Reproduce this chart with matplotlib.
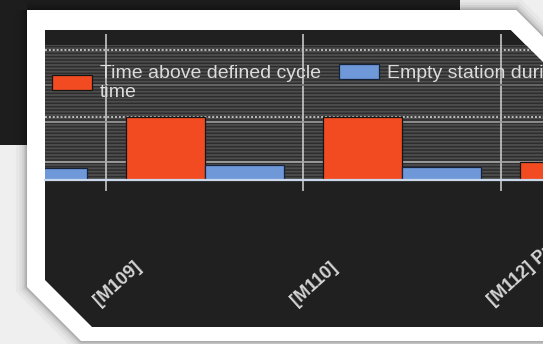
import matplotlib
matplotlib.use("Agg")
import matplotlib.pyplot as plt
import numpy as np
from matplotlib.patches import Polygon, Rectangle
from matplotlib.transforms import ScaledTranslation

# station categories and the two series (hours per station)
stations = ["[M108]", "[M109]", "[M110]", "[M112] Pr"]
over_cycle = [3.0, 3.5, 3.5, 1.0]
empty_station = [0.67, 0.83, 0.72, 0.7]
series_labels = ["Time above defined cycle\ntime", "Empty station during cycle"]

ORANGE = "#f24b22"
BLUE = "#6f98d9"
TEXT = "#dcdcdc"

W, H, DPI = 543, 344, 100
plt.rcParams["font.family"] = ["Liberation Sans", "DejaVu Sans"]
plt.rcParams["hatch.linewidth"] = 1.3


def fx(px):
    return px / W


def fy(py):
    return 1 - py / H


fig = plt.figure(figsize=(W / DPI, H / DPI), dpi=DPI, facecolor="#efefef")

# backdrop, card frame and the dark chart panel, in pixel coordinates
bg = fig.add_axes([0, 0, 1, 1], zorder=0)
bg.set_xlim(0, W)
bg.set_ylim(H, 0)
bg.axis("off")
bg.add_patch(Rectangle((0, 0), 460, 145, color="#1d1d1d", lw=0))
card = [(27, 10), (516, 10), (570, 64), (570, 341), (81, 341), (27, 287)]
for lw, a in [(16, 0.03), (11, 0.04), (7, 0.06), (4, 0.08), (2, 0.10)]:
    bg.add_patch(Polygon(card, closed=True, fill=False, edgecolor="black",
                         lw=lw, alpha=a, joinstyle="miter"))
bg.add_patch(Polygon(card, closed=True, facecolor="white", edgecolor="none"))
panel = [(45, 30), (511, 30), (570, 89), (570, 327), (92, 327), (45, 280)]
bg.add_patch(Polygon(panel, closed=True, facecolor="#202020", edgecolor="none"))

# the chart itself; it runs on past the right edge of the figure
ax = fig.add_axes([fx(45), fy(180), 595 / W, 135 / H], zorder=1)
ax.patch.set_alpha(0)
ax.add_patch(Rectangle((0, 0), 1, 1, transform=ax.transAxes, facecolor="#2d2d2d",
                       edgecolor="#4e4e4e", lw=0, hatch="-----", zorder=0.1))

x = np.arange(len(stations))
b1 = ax.bar(x - 0.2, over_cycle, 0.4, color=ORANGE, edgecolor="#151515", lw=0.9, zorder=2)
b2 = ax.bar(x + 0.2, empty_station, 0.4, color=BLUE, edgecolor="#17233a", lw=0.9, zorder=2)

ax.set_axisbelow(True)

# horizontal guides: solid major lines, dotted minor lines
ax.set_yticks([1.0, 3.2, 5.3])
ax.set_yticks([3.5, 7.2], minor=True)
ax.grid(axis="y", which="major", color="#9c9c9c", lw=1.2)
ax.grid(axis="y", which="minor", color="#bdbdbd", lw=1.4, linestyle=(0, (1, 1)))
for line, c in zip(ax.get_ygridlines(), ["#a8a8a8", "#999999", "#6a6a6a"]):
    line.set_color(c)
ax.tick_params(axis="y", which="both", left=False, labelleft=False)

# category boundaries as vertical guides with ticks poking out
ax.set_xticks(x[:-1] + 0.5, minor=True)
ax.grid(axis="x", which="minor", color="#d2d2d2", lw=1.1)
ax.tick_params(axis="x", which="minor", direction="out", top=True, bottom=True,
               length=8, width=1.1, color="#d2d2d2")
ax.set_xticks(x)
ax.set_xticklabels(stations, rotation=42, ha="left", va="baseline",
                   rotation_mode="anchor", fontsize=13, fontweight="bold", color="#d4d4d4")
ax.tick_params(axis="x", which="major", length=0, pad=0)
shift = ScaledTranslation(-1.06, -1.26, fig.dpi_scale_trans)
for lab in ax.get_xticklabels():
    lab.set_transform(lab.get_transform() + shift)

ax.set_xlim(0.188, 3.208)
ax.set_ylim(0, 7.5)

for side in ["left", "right", "top"]:
    ax.spines[side].set_visible(False)
ax.spines["bottom"].set_color("#cbd8ec")
ax.spines["bottom"].set_linewidth(1.6)

leg_kw = dict(frameon=False, fontsize=14, labelcolor=TEXT, borderpad=0,
              borderaxespad=0, handlelength=2.06, handleheight=0.82,
              handletextpad=0.42, loc="upper left", bbox_transform=fig.transFigure)
leg1 = ax.legend([b1], [series_labels[0]], bbox_to_anchor=(fx(52), fy(65)), **leg_kw)
for t in leg1.get_texts():
    t.set_linespacing(1.15)
ax.add_artist(leg1)
ax.legend([b2], [series_labels[1]], bbox_to_anchor=(fx(339), fy(64)), **leg_kw)

# white frame band across the clipped top-right corner
top = fig.add_axes([0, 0, 1, 1], zorder=3)
top.set_xlim(0, W)
top.set_ylim(H, 0)
top.axis("off")
top.add_patch(Polygon([(505, 10), (516, 10), (570, 64), (570, 89), (511, 30), (505, 30)],
                      closed=True, facecolor="white", edgecolor="none"))

fig.savefig("out.png", dpi=DPI, facecolor=fig.get_facecolor())
